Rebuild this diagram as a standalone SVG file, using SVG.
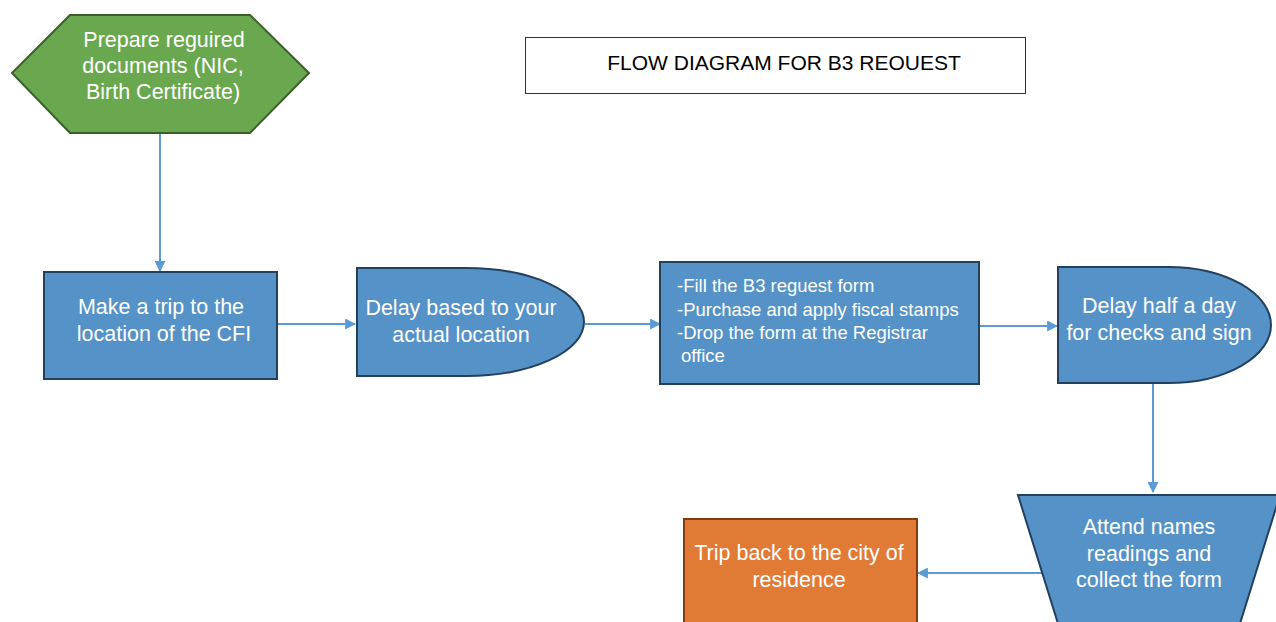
<svg xmlns="http://www.w3.org/2000/svg" width="1276" height="622" viewBox="0 0 1276 622">
<style>
.t{font-family:"Liberation Sans",Arial,sans-serif;font-size:21.5px;fill:#fff;text-anchor:middle}
.l{font-family:"Liberation Sans",Arial,sans-serif;font-size:18.5px;fill:#fff}
.blue{fill:#5592c8;stroke:#23405f;stroke-width:2}
.c{stroke:#5b9bd5;stroke-width:2;fill:none;marker-end:url(#ah)}
</style>
<defs>
<marker id="ah" viewBox="0 0 10 10" refX="9" refY="5" markerWidth="5.5" markerHeight="5.5" orient="auto">
<path d="M0,0 L10,5 L0,10 Z" fill="#5b9bd5"/>
</marker>
</defs>
<rect width="1276" height="622" fill="#fff"/>
<g id="title">
<rect x="525.5" y="37.5" width="500" height="56" fill="#fff" stroke="#333" stroke-width="1"/>
<text x="784" y="70" style="font-family:'Liberation Sans',Arial,sans-serif;font-size:21px;fill:#000;text-anchor:middle">FLOW DIAGRAM FOR B3 REOUEST</text>
</g>
<g id="connectors">
<line class="c" x1="160" y1="134" x2="160" y2="271"/>
<line class="c" x1="278" y1="324" x2="355" y2="324"/>
<line class="c" x1="585" y1="324" x2="660" y2="324"/>
<line class="c" x1="980" y1="326" x2="1057" y2="326"/>
<line class="c" x1="1153" y1="384" x2="1153" y2="492"/>
<line class="c" x1="1049" y1="573" x2="918" y2="573"/>
</g>
<g id="n1">
<polygon points="70,15 250,15 309,73 250,133 70,133 12,73" fill="#6aa84f" stroke="#3b5e2b" stroke-width="2"/>
<text class="t" x="164" y="47">Prepare reguired</text>
<text class="t" x="163" y="73">documents (NIC,</text>
<text class="t" x="163" y="99">Birth Certificate)</text>
</g>
<g id="n2">
<rect class="blue" x="44" y="272" width="233" height="107"/>
<text class="t" x="161" y="314">Make a trip to the</text>
<text class="t" x="164" y="341">location of the CFI</text>
</g>
<g id="n3">
<path class="blue" d="M357,268 H466 A118,54 0 0 1 466,376 H357 Z"/>
<text class="t" x="461" y="315">Delay based to your</text>
<text class="t" x="461" y="342">actual location</text>
</g>
<g id="n4">
<rect class="blue" x="660" y="262" width="319" height="122"/>
<text class="l" x="677" y="292">-Fill the B3 reguest form</text>
<text class="l" x="677" y="316">-Purchase and apply fiscal stamps</text>
<text class="l" x="677" y="339">-Drop the form at the Registrar</text>
<text class="l" x="681" y="362">office</text>
</g>
<g id="n5">
<path class="blue" d="M1058,267 H1168 A103,58 0 0 1 1168,383 H1058 Z"/>
<text class="t" x="1159" y="313">Delay half a day</text>
<text class="t" x="1159" y="340">for checks and sign</text>
</g>
<g id="n6">
<polygon class="blue" points="1018,495 1280,495 1238,630 1060,630"/>
<text class="t" x="1149" y="534">Attend names</text>
<text class="t" x="1149" y="561">readings and</text>
<text class="t" x="1149" y="587">collect the form</text>
</g>
<g id="n7">
<rect x="684" y="519" width="233" height="110" fill="#e07a35" stroke="#843c0c" stroke-width="2"/>
<text class="t" x="799" y="560">Trip back to the city of</text>
<text class="t" x="799" y="587">residence</text>
</g>
</svg>
